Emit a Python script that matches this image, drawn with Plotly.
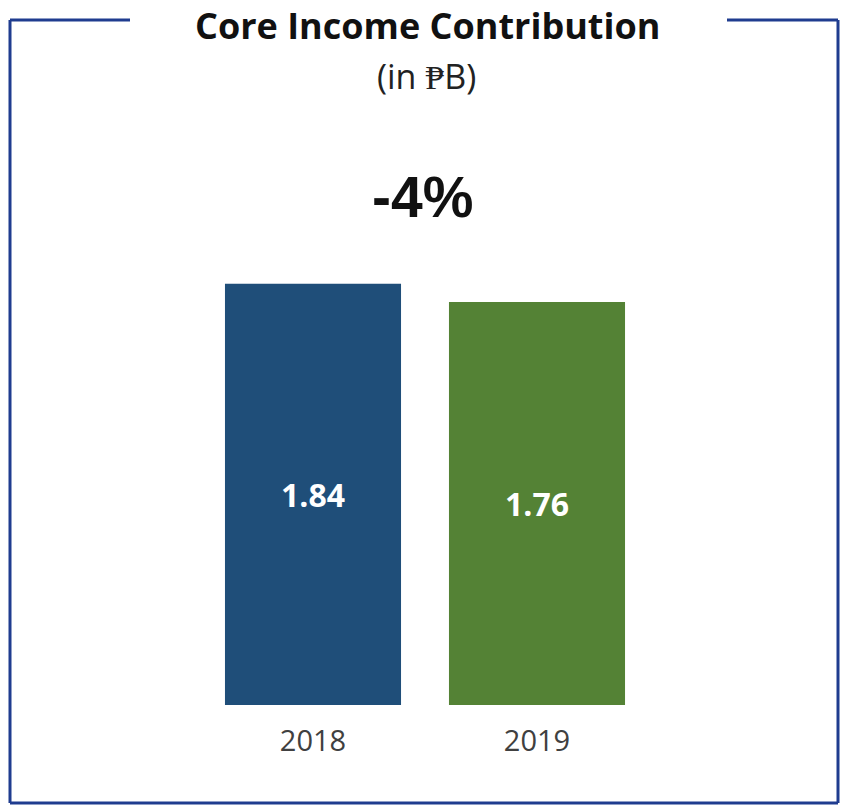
import plotly.graph_objects as go

# Chart data
years = ["2018", "2019"]
core_income = [1.84, 1.76]
bar_colors = ["#1F4E79", "#548235"]
change_label = "-4%"
title_text = "Core Income Contribution"
subtitle_text = "(in ₱B)"

W, H = 848, 808
L, R, T, B = 201, 199, 247, 103
PW, PH = W - L - R, H - T - B


def px_x(x):
    return (x - L) / PW


def px_y(y):
    return (H - B - y) / PH


fig = go.Figure(
    go.Bar(
        x=years,
        y=core_income,
        marker=dict(color=bar_colors, line=dict(width=0)),
        text=[f"{v:.2f}" for v in core_income],
        textposition="inside",
        insidetextanchor="middle",
        textfont=dict(family="Open Sans", size=32, color="white", weight="bold"),
        width=0.786,
        hoverinfo="skip",
    )
)

border = dict(color="#1F3C8F", width=3)
frame = [
    # left, bottom, right edges and the two top segments beside the title
    ((10, 20), (10, 803)),
    ((10, 803), (838, 803)),
    ((838, 803), (838, 20)),
    ((10, 20), (130, 20)),
    ((727, 20), (838, 20)),
]
shapes = []
for (x0, y0), (x1, y1) in frame:
    shapes.append(
        dict(
            type="line", xref="paper", yref="paper",
            x0=px_x(x0), y0=px_y(y0), x1=px_x(x1), y1=px_y(y1),
            line=border,
        )
    )

annotations = [
    dict(text=f"<b>{title_text}</b>", x=px_x(427), y=px_y(0), xref="paper", yref="paper",
         showarrow=False, xanchor="center", yanchor="top", borderpad=0,
         font=dict(family="Open Sans", size=36, color="#111111")),
    dict(text=subtitle_text, x=px_x(426), y=px_y(76), xref="paper", yref="paper",
         showarrow=False, xanchor="center", yanchor="middle",
         font=dict(family="Open Sans", size=34, color="#222222")),
    dict(text=f"<b>{change_label}</b>", x=px_x(422), y=px_y(197), xref="paper", yref="paper",
         showarrow=False, xanchor="center", yanchor="middle",
         font=dict(family="Liberation Sans", size=57, color="#111111")),
]

fig.update_layout(
    width=W, height=H,
    margin=dict(l=L, r=R, t=T, b=B, pad=0),
    paper_bgcolor="white", plot_bgcolor="white",
    showlegend=False,
    shapes=shapes,
    annotations=annotations,
    xaxis=dict(range=[-0.5, 1.5], showgrid=False, showline=False, zeroline=False,
               ticks="", ticklabelstandoff=16,
               tickfont=dict(family="Open Sans", size=29, color="#404040")),
    yaxis=dict(range=[0, 2.0], visible=False, showgrid=False, zeroline=False),
)

fig.write_html("out.html")
